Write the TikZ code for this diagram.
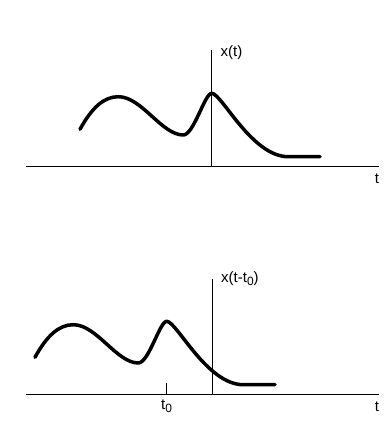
\documentclass[tikz,border=0pt]{standalone}
\usepackage{fontspec}
\setmainfont{Liberation Sans}
\begin{document}
\begin{tikzpicture}[x=1pt,y=-1pt,
  axis/.style={line width=1pt},
  sig/.style={line width=3.5pt, line cap=round, line join=round},
  lbl/.style={font=\fontsize{15}{18}\selectfont, inner sep=0pt}]
\useasboundingbox (0,0) rectangle (388,425);
% ---- top plot ----
\coordinate (o1) at (211.7,166);
\coordinate (xl1) at (26,166);
\coordinate (xr1) at (379,166);
\coordinate (yt1) at (211.7,50.5);
\draw[axis] (xl1) -- (xr1);
\draw[axis] (o1) -- (yt1);
\node[lbl, anchor=west] (lx1) at (220.5,52.7) {x(t)};
\node[lbl] (lt1) at (377,179) {t};
\begin{scope}[shift={(211.7,166)}, yscale=-1]
\draw[sig] (-131.7,36.7) .. controls (-120,58) and (-108,69.3) .. (-93.4,69.3)
  .. controls (-70,69.3) and (-50,31) .. (-28.4,31)
  .. controls (-18,31) and (-7,72.7) .. (0,72.7)
  .. controls (10,72.7) and (40,9.3) .. (76.6,9.3) -- (108.3,9.3);
\end{scope}
% ---- bottom plot ----
\coordinate (o2) at (212,394);
\coordinate (xl2) at (26,394);
\coordinate (xr2) at (379,394);
\coordinate (yt2) at (212,279.3);
\coordinate (tk0) at (166.7,394);
\coordinate (tk1) at (166.7,382.7);
\draw[axis] (xl2) -- (xr2);
\draw[axis] (o2) -- (yt2);
\draw[axis] (tk0) -- (tk1);
\node[lbl, anchor=west] (lx2) at (221,279) {x(t-t\raisebox{-0.35ex}{\fontsize{12}{14}\selectfont 0})};
\node[lbl] (lt0) at (166.5,406.5) {t\raisebox{-0.35ex}{\fontsize{12}{14}\selectfont 0}};
\node[lbl] (lt2) at (377,407) {t};
\begin{scope}[shift={(166.7,394)}, yscale=-1]
\draw[sig] (-131.7,36.7) .. controls (-120,58) and (-108,69.3) .. (-93.4,69.3)
  .. controls (-70,69.3) and (-50,31) .. (-28.4,31)
  .. controls (-18,31) and (-7,72.7) .. (0,72.7)
  .. controls (10,72.7) and (40,9.3) .. (76.6,9.3) -- (108.3,9.3);
\end{scope}
\end{tikzpicture}
\end{document}
